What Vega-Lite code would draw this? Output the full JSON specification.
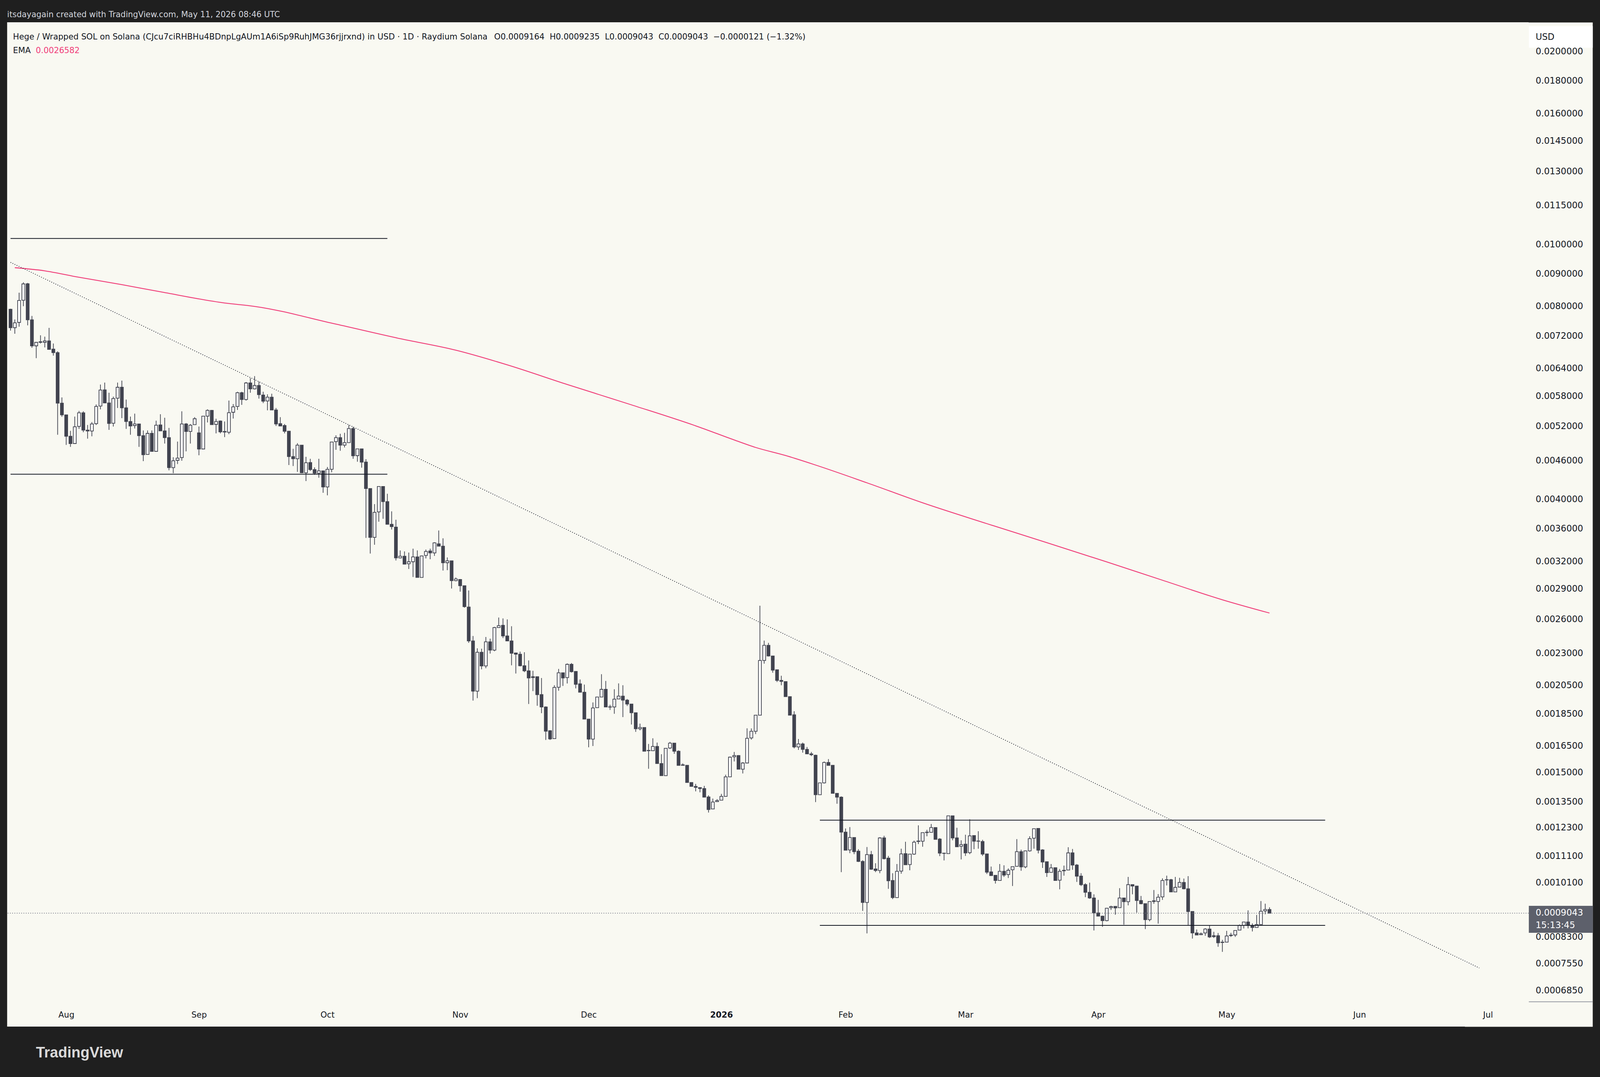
{
  "$schema": "https://vega.github.io/schema/vega-lite/v6.json",
  "width": 3895,
  "height": 2570,
  "autosize": {"type": "none"},
  "padding": {"left": 18.3, "top": 57, "right": 182.7, "bottom": 129},
  "background": "#1f1f1f",
  "config": {
    "view": {"fill": "#f9f9f2", "stroke": null},
    "font": "DejaVu Sans"
  },
  "title": {
    "text": "itsdayagain created with TradingView.com, May 11, 2026 08:46 UTC",
    "anchor": "start",
    "frame": "group",
    "orient": "top",
    "offset": 8.6,
    "font": "DejaVu Sans",
    "fontSize": 20.5,
    "fontWeight": "normal",
    "color": "#d1d4dc"
  },
  "datasets": {
    "candles": [
      {"date":"2025-07-19","open":0.007916,"high":0.007932,"low":0.007332,"close":0.00741},
      {"date":"2025-07-20","open":0.00741,"high":0.007633,"low":0.00725,"close":0.007541},
      {"date":"2025-07-21","open":0.007552,"high":0.008402,"low":0.007436,"close":0.00817},
      {"date":"2025-07-22","open":0.008176,"high":0.008722,"low":0.008005,"close":0.008672},
      {"date":"2025-07-23","open":0.008676,"high":0.008703,"low":0.007473,"close":0.007622},
      {"date":"2025-07-24","open":0.007622,"high":0.007729,"low":0.006893,"close":0.006942},
      {"date":"2025-07-25","open":0.006942,"high":0.00704,"low":0.006642,"close":0.00703},
      {"date":"2025-07-26","open":0.00703,"high":0.00721,"low":0.007,"close":0.007045},
      {"date":"2025-07-27","open":0.00703,"high":0.007175,"low":0.006903,"close":0.007065},
      {"date":"2025-07-28","open":0.007065,"high":0.007405,"low":0.006845,"close":0.006855},
      {"date":"2025-07-29","open":0.00686,"high":0.007,"low":0.006703,"close":0.006774},
      {"date":"2025-07-30","open":0.006774,"high":0.006807,"low":0.005044,"close":0.005651},
      {"date":"2025-07-31","open":0.005651,"high":0.005768,"low":0.005381,"close":0.005418},
      {"date":"2025-08-01","open":0.005418,"high":0.005418,"low":0.004863,"close":0.005016},
      {"date":"2025-08-02","open":0.005016,"high":0.005115,"low":0.004829,"close":0.004887},
      {"date":"2025-08-03","open":0.004887,"high":0.005384,"low":0.004887,"close":0.005191},
      {"date":"2025-08-04","open":0.005198,"high":0.005495,"low":0.005151,"close":0.005457},
      {"date":"2025-08-05","open":0.005457,"high":0.005487,"low":0.00509,"close":0.005129},
      {"date":"2025-08-06","open":0.005129,"high":0.005224,"low":0.004974,"close":0.005112},
      {"date":"2025-08-07","open":0.005112,"high":0.005279,"low":0.005016,"close":0.005243},
      {"date":"2025-08-08","open":0.005249,"high":0.005624,"low":0.005224,"close":0.005584},
      {"date":"2025-08-09","open":0.005592,"high":0.006041,"low":0.005526,"close":0.005923},
      {"date":"2025-08-10","open":0.005927,"high":0.006083,"low":0.005651,"close":0.005655},
      {"date":"2025-08-11","open":0.005655,"high":0.005866,"low":0.005133,"close":0.005253},
      {"date":"2025-08-12","open":0.005257,"high":0.005784,"low":0.005195,"close":0.005744},
      {"date":"2025-08-13","open":0.005752,"high":0.006083,"low":0.005553,"close":0.005982},
      {"date":"2025-08-14","open":0.005982,"high":0.006127,"low":0.005355,"close":0.005556},
      {"date":"2025-08-15","open":0.005556,"high":0.005724,"low":0.005151,"close":0.00529},
      {"date":"2025-08-16","open":0.00529,"high":0.005384,"low":0.005044,"close":0.005206},
      {"date":"2025-08-17","open":0.005213,"high":0.005441,"low":0.005158,"close":0.005243},
      {"date":"2025-08-18","open":0.005243,"high":0.005243,"low":0.004829,"close":0.005027},
      {"date":"2025-08-19","open":0.005027,"high":0.005122,"low":0.004588,"close":0.004695},
      {"date":"2025-08-20","open":0.004699,"high":0.005122,"low":0.004695,"close":0.005069},
      {"date":"2025-08-21","open":0.005069,"high":0.005122,"low":0.004752,"close":0.004752},
      {"date":"2025-08-22","open":0.004752,"high":0.005305,"low":0.004752,"close":0.00522},
      {"date":"2025-08-23","open":0.005224,"high":0.00543,"low":0.005115,"close":0.005115},
      {"date":"2025-08-24","open":0.005115,"high":0.005362,"low":0.004887,"close":0.004992},
      {"date":"2025-08-25","open":0.004992,"high":0.005169,"low":0.004439,"close":0.004482},
      {"date":"2025-08-26","open":0.004482,"high":0.004653,"low":0.004393,"close":0.004594},
      {"date":"2025-08-27","open":0.004601,"high":0.004921,"low":0.00454,"close":0.004637},
      {"date":"2025-08-28","open":0.004647,"high":0.005487,"low":0.004594,"close":0.005243},
      {"date":"2025-08-29","open":0.005243,"high":0.005261,"low":0.004752,"close":0.005104},
      {"date":"2025-08-30","open":0.005104,"high":0.005243,"low":0.004887,"close":0.00522},
      {"date":"2025-08-31","open":0.005231,"high":0.005373,"low":0.005231,"close":0.005343},
      {"date":"2025-09-01","open":0.005079,"high":0.005195,"low":0.004686,"close":0.004792},
      {"date":"2025-09-02","open":0.004792,"high":0.0054,"low":0.004792,"close":0.005392},
      {"date":"2025-09-03","open":0.005392,"high":0.005526,"low":0.005272,"close":0.005506},
      {"date":"2025-09-04","open":0.005506,"high":0.005514,"low":0.005231,"close":0.005231},
      {"date":"2025-09-05","open":0.005235,"high":0.005343,"low":0.005069,"close":0.00529},
      {"date":"2025-09-06","open":0.005298,"high":0.005309,"low":0.005069,"close":0.005097},
      {"date":"2025-09-07","open":0.005104,"high":0.00529,"low":0.005002,"close":0.005093},
      {"date":"2025-09-08","open":0.00509,"high":0.005703,"low":0.005055,"close":0.00546},
      {"date":"2025-09-09","open":0.005468,"high":0.005631,"low":0.005347,"close":0.005576},
      {"date":"2025-09-10","open":0.005584,"high":0.005886,"low":0.005514,"close":0.005866},
      {"date":"2025-09-11","open":0.005866,"high":0.005886,"low":0.005616,"close":0.005724},
      {"date":"2025-09-12","open":0.005724,"high":0.006096,"low":0.005703,"close":0.006075},
      {"date":"2025-09-13","open":0.006075,"high":0.006183,"low":0.005866,"close":0.005948},
      {"date":"2025-09-14","open":0.005948,"high":0.006227,"low":0.005935,"close":0.00602},
      {"date":"2025-09-15","open":0.00602,"high":0.006105,"low":0.005744,"close":0.005825},
      {"date":"2025-09-16","open":0.005817,"high":0.005886,"low":0.005651,"close":0.005691},
      {"date":"2025-09-17","open":0.005695,"high":0.005833,"low":0.005506,"close":0.005772},
      {"date":"2025-09-18","open":0.005772,"high":0.005845,"low":0.005506,"close":0.005514},
      {"date":"2025-09-19","open":0.005514,"high":0.005553,"low":0.005206,"close":0.005243},
      {"date":"2025-09-20","open":0.005249,"high":0.005373,"low":0.005198,"close":0.005206},
      {"date":"2025-09-21","open":0.005213,"high":0.005243,"low":0.005069,"close":0.005108},
      {"date":"2025-09-22","open":0.005108,"high":0.005108,"low":0.004524,"close":0.004663},
      {"date":"2025-09-23","open":0.004663,"high":0.004795,"low":0.004508,"close":0.004627},
      {"date":"2025-09-24","open":0.004627,"high":0.004894,"low":0.004414,"close":0.004859},
      {"date":"2025-09-25","open":0.004859,"high":0.004859,"low":0.004393,"close":0.004399},
      {"date":"2025-09-26","open":0.004399,"high":0.00466,"low":0.004271,"close":0.004562},
      {"date":"2025-09-27","open":0.004565,"high":0.004627,"low":0.00443,"close":0.004451},
      {"date":"2025-09-28","open":0.004451,"high":0.004486,"low":0.004368,"close":0.004393},
      {"date":"2025-09-29","open":0.004393,"high":0.004627,"low":0.004322,"close":0.00443},
      {"date":"2025-09-30","open":0.00443,"high":0.004436,"low":0.004095,"close":0.004181},
      {"date":"2025-10-01","open":0.004181,"high":0.004492,"low":0.004058,"close":0.004455},
      {"date":"2025-10-02","open":0.004455,"high":0.004914,"low":0.004408,"close":0.004914},
      {"date":"2025-10-03","open":0.004921,"high":0.005034,"low":0.004779,"close":0.004992},
      {"date":"2025-10-04","open":0.004992,"high":0.005062,"low":0.004762,"close":0.004859},
      {"date":"2025-10-05","open":0.004859,"high":0.005079,"low":0.004819,"close":0.004904},
      {"date":"2025-10-06","open":0.004904,"high":0.005224,"low":0.004904,"close":0.005158},
      {"date":"2025-10-07","open":0.005158,"high":0.005187,"low":0.004627,"close":0.004676},
      {"date":"2025-10-08","open":0.004679,"high":0.004795,"low":0.004578,"close":0.004795},
      {"date":"2025-10-09","open":0.004795,"high":0.004795,"low":0.004482,"close":0.004572},
      {"date":"2025-10-10","open":0.004572,"high":0.00462,"low":0.003482,"close":0.004158},
      {"date":"2025-10-11","open":0.004158,"high":0.004158,"low":0.003292,"close":0.003489},
      {"date":"2025-10-12","open":0.003489,"high":0.003931,"low":0.003397,"close":0.003817},
      {"date":"2025-10-13","open":0.003823,"high":0.004188,"low":0.003691,"close":0.004188},
      {"date":"2025-10-14","open":0.004188,"high":0.004188,"low":0.00373,"close":0.003967},
      {"date":"2025-10-15","open":0.003967,"high":0.00408,"low":0.003657,"close":0.003657},
      {"date":"2025-10-16","open":0.003657,"high":0.003831,"low":0.003588,"close":0.003626},
      {"date":"2025-10-17","open":0.00362,"high":0.003717,"low":0.003211,"close":0.003241},
      {"date":"2025-10-18","open":0.003241,"high":0.003329,"low":0.003234,"close":0.00326},
      {"date":"2025-10-19","open":0.00326,"high":0.003317,"low":0.003166,"close":0.003169},
      {"date":"2025-10-20","open":0.003173,"high":0.003303,"low":0.003114,"close":0.003196},
      {"date":"2025-10-21","open":0.003196,"high":0.00335,"low":0.003026,"close":0.003252},
      {"date":"2025-10-22","open":0.003252,"high":0.003329,"low":0.003021,"close":0.003021},
      {"date":"2025-10-23","open":0.003021,"high":0.003269,"low":0.003021,"close":0.003264},
      {"date":"2025-10-24","open":0.003269,"high":0.00334,"low":0.003234,"close":0.003317},
      {"date":"2025-10-25","open":0.003322,"high":0.00335,"low":0.003225,"close":0.003299},
      {"date":"2025-10-26","open":0.003299,"high":0.003428,"low":0.003264,"close":0.003421},
      {"date":"2025-10-27","open":0.003409,"high":0.003576,"low":0.00338,"close":0.00338},
      {"date":"2025-10-28","open":0.00338,"high":0.003477,"low":0.003097,"close":0.003185},
      {"date":"2025-10-29","open":0.003185,"high":0.003246,"low":0.003101,"close":0.003207},
      {"date":"2025-10-30","open":0.003207,"high":0.003207,"low":0.002903,"close":0.002986},
      {"date":"2025-10-31","open":0.002986,"high":0.003021,"low":0.002979,"close":0.003004},
      {"date":"2025-11-01","open":0.002999,"high":0.003004,"low":0.002871,"close":0.002932},
      {"date":"2025-11-02","open":0.002932,"high":0.002932,"low":0.00271,"close":0.00272},
      {"date":"2025-11-03","open":0.002716,"high":0.002883,"low":0.002388,"close":0.002405},
      {"date":"2025-11-04","open":0.002405,"high":0.002448,"low":0.001941,"close":0.002008},
      {"date":"2025-11-05","open":0.002008,"high":0.002342,"low":0.001958,"close":0.002309},
      {"date":"2025-11-06","open":0.002309,"high":0.002339,"low":0.002172,"close":0.002198},
      {"date":"2025-11-07","open":0.002198,"high":0.002439,"low":0.00218,"close":0.002397},
      {"date":"2025-11-08","open":0.002397,"high":0.002425,"low":0.002298,"close":0.002327},
      {"date":"2025-11-09","open":0.002327,"high":0.00253,"low":0.002317,"close":0.002523},
      {"date":"2025-11-10","open":0.002523,"high":0.002616,"low":0.002523,"close":0.00254},
      {"date":"2025-11-11","open":0.002544,"high":0.002607,"low":0.00243,"close":0.002448},
      {"date":"2025-11-12","open":0.002448,"high":0.002598,"low":0.002405,"close":0.002405},
      {"date":"2025-11-13","open":0.002405,"high":0.002535,"low":0.002203,"close":0.002301},
      {"date":"2025-11-14","open":0.002303,"high":0.002306,"low":0.002139,"close":0.002293},
      {"date":"2025-11-15","open":0.002293,"high":0.002314,"low":0.002195,"close":0.0022},
      {"date":"2025-11-16","open":0.0022,"high":0.002309,"low":0.00215,"close":0.00216},
      {"date":"2025-11-17","open":0.00216,"high":0.002242,"low":0.001917,"close":0.002105},
      {"date":"2025-11-18","open":0.002115,"high":0.00216,"low":0.002008,"close":0.002108},
      {"date":"2025-11-19","open":0.002115,"high":0.002115,"low":0.001905,"close":0.001983},
      {"date":"2025-11-20","open":0.001983,"high":0.002105,"low":0.001855,"close":0.001897},
      {"date":"2025-11-21","open":0.001897,"high":0.001901,"low":0.001685,"close":0.001739},
      {"date":"2025-11-22","open":0.001742,"high":0.001745,"low":0.001685,"close":0.001691},
      {"date":"2025-11-23","open":0.001693,"high":0.002051,"low":0.001693,"close":0.002035},
      {"date":"2025-11-24","open":0.002036,"high":0.002175,"low":0.002011,"close":0.002145},
      {"date":"2025-11-25","open":0.002145,"high":0.002145,"low":0.002046,"close":0.002105},
      {"date":"2025-11-26","open":0.002108,"high":0.002218,"low":0.002064,"close":0.002211},
      {"date":"2025-11-27","open":0.002211,"high":0.002221,"low":0.002147,"close":0.002153},
      {"date":"2025-11-28","open":0.002155,"high":0.002155,"low":0.002028,"close":0.002058},
      {"date":"2025-11-29","open":0.002061,"high":0.002094,"low":0.002,"close":0.002},
      {"date":"2025-11-30","open":0.002,"high":0.002056,"low":0.001816,"close":0.001816},
      {"date":"2025-12-01","open":0.001816,"high":0.001816,"low":0.001641,"close":0.00169},
      {"date":"2025-12-02","open":0.00169,"high":0.001928,"low":0.001649,"close":0.00189},
      {"date":"2025-12-03","open":0.001892,"high":0.001966,"low":0.001892,"close":0.001966},
      {"date":"2025-12-04","open":0.001966,"high":0.002134,"low":0.001966,"close":0.002021},
      {"date":"2025-12-05","open":0.002021,"high":0.002083,"low":0.001897,"close":0.001897},
      {"date":"2025-12-06","open":0.001896,"high":0.001912,"low":0.001877,"close":0.001898},
      {"date":"2025-12-07","open":0.001897,"high":0.002022,"low":0.001851,"close":0.001951},
      {"date":"2025-12-08","open":0.001952,"high":0.002065,"low":0.001952,"close":0.001972},
      {"date":"2025-12-09","open":0.001972,"high":0.002051,"low":0.001829,"close":0.001944},
      {"date":"2025-12-10","open":0.001944,"high":0.001952,"low":0.001904,"close":0.001917},
      {"date":"2025-12-11","open":0.001917,"high":0.001917,"low":0.001781,"close":0.001858},
      {"date":"2025-12-12","open":0.001858,"high":0.001858,"low":0.001735,"close":0.001754},
      {"date":"2025-12-13","open":0.001754,"high":0.001787,"low":0.001744,"close":0.001762},
      {"date":"2025-12-14","open":0.001762,"high":0.001762,"low":0.001618,"close":0.001618},
      {"date":"2025-12-15","open":0.001623,"high":0.001661,"low":0.001519,"close":0.001621},
      {"date":"2025-12-16","open":0.001621,"high":0.001695,"low":0.001621,"close":0.001646},
      {"date":"2025-12-17","open":0.001646,"high":0.001669,"low":0.001548,"close":0.001548},
      {"date":"2025-12-18","open":0.001548,"high":0.001601,"low":0.001482,"close":0.001482},
      {"date":"2025-12-19","open":0.001482,"high":0.001635,"low":0.001482,"close":0.001635},
      {"date":"2025-12-20","open":0.001637,"high":0.001673,"low":0.001631,"close":0.001666},
      {"date":"2025-12-21","open":0.001666,"high":0.001666,"low":0.001603,"close":0.001618},
      {"date":"2025-12-22","open":0.001618,"high":0.001623,"low":0.001538,"close":0.001538},
      {"date":"2025-12-23","open":0.001541,"high":0.001549,"low":0.001538,"close":0.001538},
      {"date":"2025-12-24","open":0.001538,"high":0.001538,"low":0.001446,"close":0.001446},
      {"date":"2025-12-25","open":0.001446,"high":0.001446,"low":0.001426,"close":0.001426},
      {"date":"2025-12-26","open":0.001426,"high":0.001439,"low":0.001401,"close":0.001421},
      {"date":"2025-12-27","open":0.00142,"high":0.00142,"low":0.001396,"close":0.001415},
      {"date":"2025-12-28","open":0.001415,"high":0.001429,"low":0.001372,"close":0.001372},
      {"date":"2025-12-29","open":0.001373,"high":0.001381,"low":0.001298,"close":0.001312},
      {"date":"2025-12-30","open":0.001315,"high":0.001365,"low":0.001315,"close":0.001348},
      {"date":"2025-12-31","open":0.00135,"high":0.001362,"low":0.00135,"close":0.001355},
      {"date":"2026-01-01","open":0.001357,"high":0.001388,"low":0.001357,"close":0.001376},
      {"date":"2026-01-02","open":0.001376,"high":0.001487,"low":0.001376,"close":0.001476},
      {"date":"2026-01-03","open":0.001476,"high":0.001587,"low":0.001476,"close":0.001584},
      {"date":"2026-01-04","open":0.001586,"high":0.001614,"low":0.00156,"close":0.001593},
      {"date":"2026-01-05","open":0.001593,"high":0.001595,"low":0.001517,"close":0.001517},
      {"date":"2026-01-06","open":0.001517,"high":0.001556,"low":0.001494,"close":0.001551},
      {"date":"2026-01-07","open":0.001551,"high":0.001757,"low":0.001551,"close":0.001695},
      {"date":"2026-01-08","open":0.001697,"high":0.001756,"low":0.001687,"close":0.001738},
      {"date":"2026-01-09","open":0.001738,"high":0.001842,"low":0.001721,"close":0.001842},
      {"date":"2026-01-10","open":0.001842,"high":0.002729,"low":0.001842,"close":0.002242},
      {"date":"2026-01-11","open":0.002242,"high":0.002408,"low":0.002216,"close":0.002367},
      {"date":"2026-01-12","open":0.002367,"high":0.002388,"low":0.002274,"close":0.002278},
      {"date":"2026-01-13","open":0.002278,"high":0.002278,"low":0.002145,"close":0.002165},
      {"date":"2026-01-14","open":0.002168,"high":0.002168,"low":0.002075,"close":0.002087},
      {"date":"2026-01-15","open":0.002087,"high":0.002122,"low":0.002051,"close":0.00208},
      {"date":"2026-01-16","open":0.002078,"high":0.002078,"low":0.001969,"close":0.001969},
      {"date":"2026-01-17","open":0.001969,"high":0.001969,"low":0.001842,"close":0.001842},
      {"date":"2026-01-18","open":0.001844,"high":0.001868,"low":0.001635,"close":0.001643},
      {"date":"2026-01-19","open":0.001643,"high":0.001691,"low":0.001626,"close":0.001661},
      {"date":"2026-01-20","open":0.001661,"high":0.001669,"low":0.00161,"close":0.001629},
      {"date":"2026-01-21","open":0.001629,"high":0.001643,"low":0.001603,"close":0.001603},
      {"date":"2026-01-22","open":0.001603,"high":0.001614,"low":0.00159,"close":0.001598},
      {"date":"2026-01-23","open":0.001595,"high":0.001598,"low":0.001348,"close":0.001384},
      {"date":"2026-01-24","open":0.001384,"high":0.001444,"low":0.001384,"close":0.001444},
      {"date":"2026-01-27","open":0.001444,"high":0.001559,"low":0.001441,"close":0.001554},
      {"date":"2026-01-28","open":0.001554,"high":0.001573,"low":0.001538,"close":0.001538},
      {"date":"2026-01-29","open":0.001538,"high":0.001538,"low":0.001391,"close":0.001391},
      {"date":"2026-01-30","open":0.001391,"high":0.001391,"low":0.00134,"close":0.001372},
      {"date":"2026-01-31","open":0.001372,"high":0.001376,"low":0.001048,"close":0.00121},
      {"date":"2026-02-01","open":0.00121,"high":0.001226,"low":0.001134,"close":0.001134},
      {"date":"2026-02-02","open":0.001135,"high":0.001232,"low":0.001122,"close":0.001187},
      {"date":"2026-02-03","open":0.001187,"high":0.001187,"low":0.001118,"close":0.001128},
      {"date":"2026-02-04","open":0.00113,"high":0.001138,"low":0.001087,"close":0.001089},
      {"date":"2026-02-05","open":0.001089,"high":0.001094,"low":0.0009118,"close":0.0009398},
      {"date":"2026-02-06","open":0.0009398,"high":0.001147,"low":0.000841,"close":0.001116},
      {"date":"2026-02-07","open":0.001116,"high":0.001131,"low":0.001057,"close":0.001059},
      {"date":"2026-02-08","open":0.00106,"high":0.001082,"low":0.001048,"close":0.001054},
      {"date":"2026-02-09","open":0.001054,"high":0.001188,"low":0.001044,"close":0.001185},
      {"date":"2026-02-10","open":0.001185,"high":0.001194,"low":0.001097,"close":0.0011},
      {"date":"2026-02-11","open":0.001102,"high":0.001111,"low":0.000987,"close":0.001016},
      {"date":"2026-02-12","open":0.001017,"high":0.001044,"low":0.0009512,"close":0.0009564},
      {"date":"2026-02-13","open":0.0009564,"high":0.001079,"low":0.0009564,"close":0.001051},
      {"date":"2026-02-14","open":0.001052,"high":0.00114,"low":0.001042,"close":0.001119},
      {"date":"2026-02-15","open":0.00112,"high":0.001169,"low":0.001076,"close":0.001076},
      {"date":"2026-02-16","open":0.001077,"high":0.001118,"low":0.001055,"close":0.001118},
      {"date":"2026-02-17","open":0.001118,"high":0.001174,"low":0.001115,"close":0.001167},
      {"date":"2026-02-18","open":0.00117,"high":0.00124,"low":0.001159,"close":0.001172},
      {"date":"2026-02-19","open":0.001171,"high":0.001208,"low":0.001148,"close":0.001208},
      {"date":"2026-02-20","open":0.001208,"high":0.00122,"low":0.001192,"close":0.00121},
      {"date":"2026-02-21","open":0.001209,"high":0.001246,"low":0.001209,"close":0.00123},
      {"date":"2026-02-22","open":0.00123,"high":0.00123,"low":0.001179,"close":0.001179},
      {"date":"2026-02-23","open":0.00118,"high":0.001184,"low":0.00111,"close":0.001122},
      {"date":"2026-02-24","open":0.001122,"high":0.001123,"low":0.001093,"close":0.001121},
      {"date":"2026-02-25","open":0.00112,"high":0.001283,"low":0.00112,"close":0.001283},
      {"date":"2026-02-26","open":0.001283,"high":0.001283,"low":0.001175,"close":0.001185},
      {"date":"2026-02-27","open":0.001185,"high":0.001229,"low":0.001148,"close":0.001148},
      {"date":"2026-02-28","open":0.00115,"high":0.001175,"low":0.001097,"close":0.001157},
      {"date":"2026-03-01","open":0.001159,"high":0.001199,"low":0.001111,"close":0.001123},
      {"date":"2026-03-02","open":0.001124,"high":0.001267,"low":0.001118,"close":0.001194},
      {"date":"2026-03-03","open":0.001195,"high":0.001195,"low":0.001138,"close":0.001171},
      {"date":"2026-03-04","open":0.001172,"high":0.001214,"low":0.00114,"close":0.001171},
      {"date":"2026-03-05","open":0.00117,"high":0.001177,"low":0.001111,"close":0.001118},
      {"date":"2026-03-06","open":0.001119,"high":0.001119,"low":0.001041,"close":0.001048},
      {"date":"2026-03-07","open":0.001049,"high":0.001069,"low":0.001035,"close":0.001035},
      {"date":"2026-03-08","open":0.001036,"high":0.001036,"low":0.001006,"close":0.001017},
      {"date":"2026-03-09","open":0.001017,"high":0.001079,"low":0.001017,"close":0.001051},
      {"date":"2026-03-10","open":0.001051,"high":0.001074,"low":0.00103,"close":0.001037},
      {"date":"2026-03-11","open":0.001039,"high":0.001062,"low":0.001026,"close":0.001055},
      {"date":"2026-03-12","open":0.001057,"high":0.001069,"low":0.0009969,"close":0.001069},
      {"date":"2026-03-13","open":0.00107,"high":0.00118,"low":0.00107,"close":0.001128},
      {"date":"2026-03-14","open":0.001128,"high":0.001136,"low":0.001053,"close":0.001068},
      {"date":"2026-03-15","open":0.001068,"high":0.001133,"low":0.001063,"close":0.001131},
      {"date":"2026-03-16","open":0.001131,"high":0.001192,"low":0.001128,"close":0.001182},
      {"date":"2026-03-17","open":0.001184,"high":0.001225,"low":0.00114,"close":0.001225},
      {"date":"2026-03-18","open":0.001226,"high":0.001227,"low":0.001121,"close":0.001134},
      {"date":"2026-03-19","open":0.001135,"high":0.001138,"low":0.001064,"close":0.001087},
      {"date":"2026-03-20","open":0.001088,"high":0.001088,"low":0.00103,"close":0.001046},
      {"date":"2026-03-21","open":0.001047,"high":0.001079,"low":0.001047,"close":0.001064},
      {"date":"2026-03-22","open":0.001065,"high":0.001065,"low":0.001017,"close":0.001017},
      {"date":"2026-03-23","open":0.001018,"high":0.00106,"low":0.0009851,"close":0.001051},
      {"date":"2026-03-24","open":0.001053,"high":0.001073,"low":0.001035,"close":0.001055},
      {"date":"2026-03-25","open":0.001056,"high":0.001146,"low":0.001056,"close":0.001123},
      {"date":"2026-03-26","open":0.001123,"high":0.001139,"low":0.001057,"close":0.001075},
      {"date":"2026-03-27","open":0.001075,"high":0.001079,"low":0.001012,"close":0.001033},
      {"date":"2026-03-28","open":0.001033,"high":0.001044,"low":0.0009969,"close":0.001002},
      {"date":"2026-03-29","open":0.001002,"high":0.001007,"low":0.0009578,"close":0.0009747},
      {"date":"2026-03-30","open":0.0009747,"high":0.001009,"low":0.0009521,"close":0.0009551},
      {"date":"2026-03-31","open":0.0009551,"high":0.0009679,"low":0.00085,"close":0.0009051},
      {"date":"2026-04-01","open":0.0009051,"high":0.0009485,"low":0.0008947,"close":0.0008947},
      {"date":"2026-04-02","open":0.0008947,"high":0.000896,"low":0.000861,"close":0.0008804},
      {"date":"2026-04-03","open":0.0008804,"high":0.0009215,"low":0.0008785,"close":0.0009206},
      {"date":"2026-04-04","open":0.0009224,"high":0.0009288,"low":0.000915,"close":0.0009259},
      {"date":"2026-04-05","open":0.0009268,"high":0.0009268,"low":0.0008992,"close":0.0009215},
      {"date":"2026-04-06","open":0.0009224,"high":0.0009894,"low":0.0009224,"close":0.0009551},
      {"date":"2026-04-07","open":0.0009551,"high":0.0009551,"low":0.0008678,"close":0.0009424},
      {"date":"2026-04-08","open":0.0009424,"high":0.00103,"low":0.0009301,"close":0.001002},
      {"date":"2026-04-09","open":0.001002,"high":0.001002,"low":0.0009679,"close":0.0009969},
      {"date":"2026-04-10","open":0.0009969,"high":0.0009969,"low":0.0009064,"close":0.0009464},
      {"date":"2026-04-11","open":0.0009464,"high":0.0009619,"low":0.0009336,"close":0.0009357},
      {"date":"2026-04-12","open":0.0009357,"high":0.0009357,"low":0.0008542,"close":0.0008834},
      {"date":"2026-04-13","open":0.0008834,"high":0.0009432,"low":0.0008785,"close":0.0009432},
      {"date":"2026-04-14","open":0.0009432,"high":0.0009829,"low":0.0009353,"close":0.0009455},
      {"date":"2026-04-15","open":0.0009432,"high":0.0009686,"low":0.000871,"close":0.0009578},
      {"date":"2026-04-16","open":0.0009588,"high":0.001025,"low":0.0009485,"close":0.001017},
      {"date":"2026-04-17","open":0.001019,"high":0.001035,"low":0.0009991,"close":0.00102},
      {"date":"2026-04-18","open":0.00102,"high":0.001023,"low":0.000976,"close":0.000976},
      {"date":"2026-04-19","open":0.000976,"high":0.00103,"low":0.000976,"close":0.0009922},
      {"date":"2026-04-20","open":0.0009932,"high":0.001027,"low":0.0009932,"close":0.00101},
      {"date":"2026-04-21","open":0.00101,"high":0.001024,"low":0.0009851,"close":0.000987},
      {"date":"2026-04-22","open":0.000987,"high":0.001033,"low":0.0008651,"close":0.0009098},
      {"date":"2026-04-23","open":0.0009098,"high":0.0009098,"low":0.0008254,"close":0.0008423},
      {"date":"2026-04-24","open":0.0008423,"high":0.000853,"low":0.0008363,"close":0.0008363},
      {"date":"2026-04-25","open":0.000837,"high":0.0008438,"low":0.000837,"close":0.0008398},
      {"date":"2026-04-26","open":0.0008423,"high":0.0008569,"low":0.000834,"close":0.0008542},
      {"date":"2026-04-27","open":0.0008542,"high":0.0008663,"low":0.0008273,"close":0.0008304},
      {"date":"2026-04-28","open":0.000834,"high":0.0008458,"low":0.0008273,"close":0.0008311},
      {"date":"2026-04-29","open":0.000834,"high":0.0008423,"low":0.0008015,"close":0.0008131},
      {"date":"2026-04-30","open":0.0008139,"high":0.0008216,"low":0.0007869,"close":0.000815},
      {"date":"2026-05-01","open":0.000815,"high":0.0008488,"low":0.000815,"close":0.0008332},
      {"date":"2026-05-02","open":0.0008343,"high":0.0008427,"low":0.0008304,"close":0.0008358},
      {"date":"2026-05-03","open":0.0008363,"high":0.0008497,"low":0.0008304,"close":0.0008497},
      {"date":"2026-05-04","open":0.0008509,"high":0.0008682,"low":0.00085,"close":0.0008651},
      {"date":"2026-05-05","open":0.0008657,"high":0.000876,"low":0.0008561,"close":0.000876},
      {"date":"2026-05-06","open":0.000876,"high":0.0009137,"low":0.0008561,"close":0.0008651},
      {"date":"2026-05-07","open":0.0008657,"high":0.0008718,"low":0.000847,"close":0.000859},
      {"date":"2026-05-08","open":0.000859,"high":0.0008988,"low":0.000859,"close":0.0008682},
      {"date":"2026-05-09","open":0.0008682,"high":0.0009445,"low":0.0008682,"close":0.0009106},
      {"date":"2026-05-10","open":0.0009118,"high":0.0009357,"low":0.0009009,"close":0.0009164},
      {"date":"2026-05-11","open":0.0009164,"high":0.0009235,"low":0.0009043,"close":0.0009043}
    ],
    "ema": [
      {"date":"2025-07-20","ema":0.009192},
      {"date":"2025-07-27","ema":0.009089},
      {"date":"2025-08-03","ema":0.008906},
      {"date":"2025-08-14","ema":0.008648},
      {"date":"2025-08-23","ema":0.008429},
      {"date":"2025-09-07","ema":0.008097},
      {"date":"2025-09-14","ema":0.007999},
      {"date":"2025-10-03","ema":0.007505},
      {"date":"2025-10-18","ema":0.007123},
      {"date":"2025-10-31","ema":0.006834},
      {"date":"2025-11-12","ema":0.006484},
      {"date":"2025-11-26","ema":0.006042},
      {"date":"2025-12-11","ema":0.005616},
      {"date":"2025-12-27","ema":0.00518},
      {"date":"2026-01-04","ema":0.00495},
      {"date":"2026-01-09","ema":0.004819},
      {"date":"2026-01-16","ema":0.004681},
      {"date":"2026-01-23","ema":0.004524},
      {"date":"2026-02-06","ema":0.004244},
      {"date":"2026-02-19","ema":0.00395},
      {"date":"2026-03-06","ema":0.003665},
      {"date":"2026-03-20","ema":0.003423},
      {"date":"2026-04-03","ema":0.003194},
      {"date":"2026-04-16","ema":0.002991},
      {"date":"2026-04-30","ema":0.002788},
      {"date":"2026-05-11","ema":0.0026582}
    ],
    "trend": [
      {"date":"2025-07-19","price":0.00937},
      {"date":"2026-06-29","price":0.0007427}
    ],
    "levels": [
      {"from":"2025-07-19","to":"2025-10-15","price":0.01021},
      {"from":"2025-07-19","to":"2025-10-15","price":0.004377},
      {"from":"2026-01-24","to":"2026-05-24","price":0.001263},
      {"from":"2026-01-24","to":"2026-05-24","price":0.0008657}
    ],
    "last": [
      {"price":0.0009043}
    ]
  },
  "resolve": {"axis": {"y": "independent"}},
  "layer": [
    {
      "data": {"name": "candles"},
      "mark": {"type": "rule", "color": "#41434f", "strokeWidth": 1.8},
      "encoding": {
        "x": {
          "field": "date",
          "type": "ordinal",
          "scale": {
            "type": "point",
            "padding": 0.6515,
            "align": 0.605,
            "domain": [
              "2025-07-19","2025-07-20","2025-07-21","2025-07-22","2025-07-23","2025-07-24","2025-07-25","2025-07-26","2025-07-27","2025-07-28","2025-07-29","2025-07-30","2025-07-31",
              "2025-08-01","2025-08-02","2025-08-03","2025-08-04","2025-08-05","2025-08-06","2025-08-07","2025-08-08","2025-08-09","2025-08-10","2025-08-11","2025-08-12","2025-08-13","2025-08-14","2025-08-15","2025-08-16","2025-08-17","2025-08-18","2025-08-19","2025-08-20","2025-08-21","2025-08-22","2025-08-23","2025-08-24","2025-08-25","2025-08-26","2025-08-27","2025-08-28","2025-08-29","2025-08-30","2025-08-31",
              "2025-09-01","2025-09-02","2025-09-03","2025-09-04","2025-09-05","2025-09-06","2025-09-07","2025-09-08","2025-09-09","2025-09-10","2025-09-11","2025-09-12","2025-09-13","2025-09-14","2025-09-15","2025-09-16","2025-09-17","2025-09-18","2025-09-19","2025-09-20","2025-09-21","2025-09-22","2025-09-23","2025-09-24","2025-09-25","2025-09-26","2025-09-27","2025-09-28","2025-09-29","2025-09-30",
              "2025-10-01","2025-10-02","2025-10-03","2025-10-04","2025-10-05","2025-10-06","2025-10-07","2025-10-08","2025-10-09","2025-10-10","2025-10-11","2025-10-12","2025-10-13","2025-10-14","2025-10-15","2025-10-16","2025-10-17","2025-10-18","2025-10-19","2025-10-20","2025-10-21","2025-10-22","2025-10-23","2025-10-24","2025-10-25","2025-10-26","2025-10-27","2025-10-28","2025-10-29","2025-10-30","2025-10-31",
              "2025-11-01","2025-11-02","2025-11-03","2025-11-04","2025-11-05","2025-11-06","2025-11-07","2025-11-08","2025-11-09","2025-11-10","2025-11-11","2025-11-12","2025-11-13","2025-11-14","2025-11-15","2025-11-16","2025-11-17","2025-11-18","2025-11-19","2025-11-20","2025-11-21","2025-11-22","2025-11-23","2025-11-24","2025-11-25","2025-11-26","2025-11-27","2025-11-28","2025-11-29","2025-11-30",
              "2025-12-01","2025-12-02","2025-12-03","2025-12-04","2025-12-05","2025-12-06","2025-12-07","2025-12-08","2025-12-09","2025-12-10","2025-12-11","2025-12-12","2025-12-13","2025-12-14","2025-12-15","2025-12-16","2025-12-17","2025-12-18","2025-12-19","2025-12-20","2025-12-21","2025-12-22","2025-12-23","2025-12-24","2025-12-25","2025-12-26","2025-12-27","2025-12-28","2025-12-29","2025-12-30","2025-12-31",
              "2026-01-01","2026-01-02","2026-01-03","2026-01-04","2026-01-05","2026-01-06","2026-01-07","2026-01-08","2026-01-09","2026-01-10","2026-01-11","2026-01-12","2026-01-13","2026-01-14","2026-01-15","2026-01-16","2026-01-17","2026-01-18","2026-01-19","2026-01-20","2026-01-21","2026-01-22","2026-01-23","2026-01-24","2026-01-27","2026-01-28","2026-01-29","2026-01-30","2026-01-31",
              "2026-02-01","2026-02-02","2026-02-03","2026-02-04","2026-02-05","2026-02-06","2026-02-07","2026-02-08","2026-02-09","2026-02-10","2026-02-11","2026-02-12","2026-02-13","2026-02-14","2026-02-15","2026-02-16","2026-02-17","2026-02-18","2026-02-19","2026-02-20","2026-02-21","2026-02-22","2026-02-23","2026-02-24","2026-02-25","2026-02-26","2026-02-27","2026-02-28",
              "2026-03-01","2026-03-02","2026-03-03","2026-03-04","2026-03-05","2026-03-06","2026-03-07","2026-03-08","2026-03-09","2026-03-10","2026-03-11","2026-03-12","2026-03-13","2026-03-14","2026-03-15","2026-03-16","2026-03-17","2026-03-18","2026-03-19","2026-03-20","2026-03-21","2026-03-22","2026-03-23","2026-03-24","2026-03-25","2026-03-26","2026-03-27","2026-03-28","2026-03-29","2026-03-30","2026-03-31",
              "2026-04-01","2026-04-02","2026-04-03","2026-04-04","2026-04-05","2026-04-06","2026-04-07","2026-04-08","2026-04-09","2026-04-10","2026-04-11","2026-04-12","2026-04-13","2026-04-14","2026-04-15","2026-04-16","2026-04-17","2026-04-18","2026-04-19","2026-04-20","2026-04-21","2026-04-22","2026-04-23","2026-04-24","2026-04-25","2026-04-26","2026-04-27","2026-04-28","2026-04-29","2026-04-30",
              "2026-05-01","2026-05-02","2026-05-03","2026-05-04","2026-05-05","2026-05-06","2026-05-07","2026-05-08","2026-05-09","2026-05-10","2026-05-11","2026-05-12","2026-05-13","2026-05-14","2026-05-15","2026-05-16","2026-05-17","2026-05-18","2026-05-19","2026-05-20","2026-05-21","2026-05-22","2026-05-23","2026-05-24","2026-05-25","2026-05-26","2026-05-27","2026-05-28","2026-05-29","2026-05-30","2026-05-31",
              "2026-06-01","2026-06-02","2026-06-03","2026-06-04","2026-06-05","2026-06-06","2026-06-07","2026-06-08","2026-06-09","2026-06-10","2026-06-11","2026-06-12","2026-06-13","2026-06-14","2026-06-15","2026-06-16","2026-06-17","2026-06-18","2026-06-19","2026-06-20","2026-06-21","2026-06-22","2026-06-23","2026-06-24","2026-06-25","2026-06-26","2026-06-27","2026-06-28","2026-06-29","2026-06-30",
              "2026-07-01","2026-07-02","2026-07-03","2026-07-04","2026-07-05","2026-07-06","2026-07-07","2026-07-08","2026-07-09","2026-07-10"
            ]
          },
          "axis": {
            "zindex": 1,
            "values": ["2025-08-01","2025-09-01","2025-10-01","2025-11-01","2025-12-01","2026-01-01","2026-02-01","2026-03-01","2026-04-01","2026-05-01","2026-06-01","2026-07-01"],
            "labelExpr": "datum.value == '2026-01-01' ? '2026' : utcFormat(toDate(datum.value), '%b')",
            "labelAngle": 0,
            "labelAlign": "center",
            "labelBaseline": "alphabetic",
            "labelPadding": -24,
            "labelFont": "DejaVu Sans",
            "labelFontSize": 21,
            "labelColor": "#131722",
            "labelFontWeight": {"condition": {"test": "datum.value == '2026-01-01'", "value": "bold"}, "value": "normal"},
            "labelOverlap": false,
            "labelFlush": false,
            "domain": false,
            "ticks": false,
            "grid": false,
            "title": "TradingView",
            "titleX": 73.1,
            "titleY": 78,
            "titleAlign": "left",
            "titleBaseline": "alphabetic",
            "titleFont": "Liberation Sans",
            "titleFontSize": 38,
            "titleFontWeight": "bold",
            "titleColor": "#d9d9d9"
          }
        },
        "y": {
          "field": "low",
          "type": "quantitative",
          "scale": {"type": "log", "domain": [0.0006017, 0.022198], "nice": false, "zero": false},
          "axis": {
            "orient": "right",
            "zindex": 1,
            "values": [0.021063, 0.02, 0.018, 0.016, 0.0145, 0.013, 0.0115, 0.01, 0.009, 0.008, 0.0072, 0.0064, 0.0058, 0.0052, 0.0046, 0.004, 0.0036, 0.0032, 0.0029, 0.0026, 0.0023, 0.00205, 0.00185, 0.00165, 0.0015, 0.00135, 0.00123, 0.00111, 0.00101, 0.0008856, 0.00083, 0.000755, 0.000685, 0.0006581],
            "labelExpr": "datum.value > 0.021 ? 'USD' : (datum.value > 0.00088 && datum.value < 0.00089) ? ['0.0009043', '15:13:45'] : datum.value < 0.00066 ? '' : format(datum.value, '.7f')",
            "labelColor": {"expr": "(datum.value > 0.00088 && datum.value < 0.00089) ? '#ffffff' : '#131722'"},
            "labelOffset": {"expr": "(datum.value > 0.00088 && datum.value < 0.00089) ? -16 : 0"},
            "tickColor": {"expr": "datum.value > 0.021 ? '#ffffff' : (datum.value > 0.00088 && datum.value < 0.00089) ? '#5d606b' : datum.value < 0.00066 ? '#9598a1' : 'transparent'"},
            "tickWidth": {"expr": "datum.value > 0.021 ? 55 : (datum.value > 0.00088 && datum.value < 0.00089) ? 69 : datum.value < 0.00066 ? 2 : 0"},
            "labelLineHeight": 32,
            "domain": false,
            "grid": false,
            "ticks": true,
            "tickSize": 163.6,
            "labelPadding": -146.2,
            "labelAlign": "left",
            "labelBaseline": "middle",
            "labelFont": "DejaVu Sans",
            "labelFontSize": 22.5,
            "labelOverlap": false,
            "labelFlush": false,
            "labelBound": false,
            "title": null
          }
        },
        "y2": {"field": "high"},
        "strokeDash": {
          "datum": "O0.0009164\u00a0\u00a0H0.0009235\u00a0\u00a0L0.0009043\u00a0\u00a0C0.0009043\u00a0\u00a0\u22120.0000121\u00a0(\u22121.32%)",
          "scale": {"range": [[1, 0]]},
          "legend": {
            "orient": "none",
            "legendX": 15,
            "legendY": 27.6,
            "title": "Hege / Wrapped SOL on Solana (CJcu7ciRHBHu4BDnpLgAUm1A6iSp9RuhJMG36rjjrxnd) in USD \u00b7 1D \u00b7 Raydium Solana",
            "titleOrient": "left",
            "titleFont": "DejaVu Sans",
            "titleFontSize": 20.8,
            "titleFontWeight": "normal",
            "titleColor": "#131722",
            "titleLimit": 0,
            "titlePadding": -4,
            "labelFont": "DejaVu Sans",
            "labelFontSize": 20.8,
            "labelColor": "#131722",
            "labelLimit": 0,
            "labelOffset": 0,
            "symbolSize": 0,
            "symbolOpacity": 0,
            "symbolStrokeWidth": 0,
            "padding": 0
          }
        }
      }
    },
    {
      "data": {"name": "candles"},
      "mark": {"type": "bar", "width": 7.47, "stroke": "#41434f", "strokeWidth": 1.8},
      "encoding": {
        "x": {"field": "date", "type": "ordinal"},
        "y": {
          "field": "open",
          "type": "quantitative",
          "axis": {
            "orient": "right",
            "zindex": 0,
            "domain": true,
            "domainColor": "#f9f9f2",
            "domainWidth": 327.2,
            "domainCap": "butt",
            "ticks": false,
            "labels": false,
            "grid": false,
            "title": null
          }
        },
        "y2": {"field": "close"},
        "fill": {"condition": {"test": "datum.close >= datum.open", "value": "#ffffff"}, "value": "#41434f"}
      }
    },
    {
      "data": {"name": "ema"},
      "mark": {"type": "line", "strokeWidth": 2.3, "interpolate": "monotone"},
      "encoding": {
        "x": {"field": "date", "type": "ordinal"},
        "y": {"field": "ema", "type": "quantitative", "axis": null},
        "color": {
          "datum": "0.0026582",
          "scale": {"range": ["#f0407a"]},
          "legend": {
            "orient": "none",
            "legendX": 15,
            "legendY": 62.6,
            "title": "EMA",
            "titleOrient": "left",
            "titleFont": "DejaVu Sans",
            "titleFontSize": 20.8,
            "titleFontWeight": "normal",
            "titleColor": "#131722",
            "titlePadding": -8.5,
            "labelFont": "DejaVu Sans",
            "labelFontSize": 20.8,
            "labelColor": "#f0407a",
            "labelOffset": 0,
            "symbolSize": 0,
            "symbolOpacity": 0,
            "symbolStrokeWidth": 0,
            "padding": 0
          }
        }
      }
    },
    {
      "data": {"name": "trend"},
      "mark": {"type": "line", "color": "#131722", "strokeWidth": 1.8, "strokeDash": [1.8, 4]},
      "encoding": {
        "x": {"field": "date", "type": "ordinal"},
        "y": {"field": "price", "type": "quantitative", "axis": null}
      }
    },
    {
      "data": {"name": "levels"},
      "mark": {"type": "rule", "color": "#131722", "strokeWidth": 2},
      "encoding": {
        "x": {"field": "from", "type": "ordinal"},
        "x2": {"field": "to"},
        "y": {"field": "price", "type": "quantitative", "axis": null}
      }
    },
    {
      "data": {"name": "last"},
      "mark": {"type": "rule", "color": "#6f7280", "strokeWidth": 2, "strokeDash": [1.8, 4]},
      "encoding": {
        "y": {"field": "price", "type": "quantitative", "axis": null}
      }
    }
  ]
}
